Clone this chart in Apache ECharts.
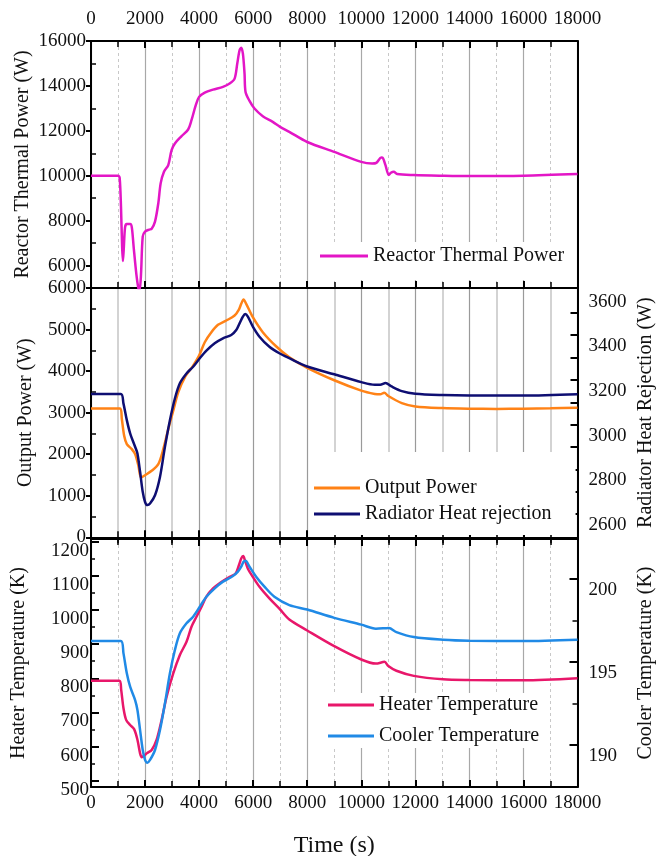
<!DOCTYPE html>
<html><head><meta charset="utf-8">
<script src="https://cdn.jsdelivr.net/npm/echarts@6/dist/echarts.min.js"></script>
<style>html,body{margin:0;padding:0;background:#fff}#c{width:656px;height:856px}</style>
</head><body><div id="c"></div>
<script>
// ---- data (time in s) ----
const reactorT = [0,1000,1060,1110,1150,1180,1210,1260,1320,1450,1510,1580,1680,1760,1800,1850,1914,2000,2150,2245,2368,2490,2577,2700,2859,2982,3104,3350,3595,3718,3877,4000,4209,4515,4883,5129,5313,5411,5497,5558,5620,5681,5718,5865,6049,6356,6724,6994,7337,8000,9000,10000,10401,10556,10741,10800,10895,11019,11096,11204,11327,11944,13025,14000,16000,18000];
const reactorW = [10000,10000,9900,8600,6900,6200,6700,7700,7850,7850,7700,6800,5600,4950,4900,5600,7289,7511,7600,7640,7956,8770,9660,10178,10474,11141,11437,11763,12059,12474,13141,13511,13704,13837,13956,14104,14326,14993,15585,15704,15437,14548,13733,13333,12993,12652,12400,12178,11956,11502,11060,10619,10545,10574,10810,10790,10471,10029,10132,10177,10074,10029,10000,9985,10000,10074];

const outputT = [0,1080,1141,1227,1325,1509,1632,1755,1853,2000,2245,2490,2675,2859,3043,3227,3472,3779,4000,4209,4454,4699,5006,5313,5472,5558,5644,5742,5988,6356,6847,7337,8000,9000,10000,10500,10700,10850,11000,11500,12000,13000,14000,15000,16000,17000,18000];
const outputW = [3100,3100,2846,2444,2243,2122,2002,1720,1439,1495,1600,1760,2122,2605,3047,3489,3850,4132,4373,4695,4936,5113,5217,5338,5482,5619,5723,5619,5297,4936,4598,4333,4080,3780,3530,3450,3440,3480,3400,3230,3150,3110,3095,3090,3095,3105,3120];

const radT = [0,1104,1200,1325,1448,1632,1718,1816,1914,2000,2086,2184,2368,2552,2736,2920,3104,3288,3534,3779,4025,4270,4577,4883,5190,5374,5497,5620,5706,5804,5988,6233,6601,6969,7337,8000,9000,10000,10500,10700,10900,11100,11500,12000,13000,14000,16000,18000];
const radW = [3187,3187,3145,3070,3011,2951,2921,2839,2749,2704,2690,2697,2734,2816,2951,3070,3167,3235,3279,3309,3347,3381,3414,3436,3451,3473,3503,3533,3545,3533,3488,3443,3398,3369,3347,3310,3275,3240,3228,3228,3236,3222,3200,3188,3182,3180,3180,3186];

const heaterT = [0,1055,1117,1202,1300,1448,1595,1718,1816,1877,1963,2061,2245,2429,2613,2798,3043,3288,3534,3718,3902,4086,4270,4515,4822,5129,5350,5472,5558,5632,5693,5804,5988,6233,6601,6969,7337,8000,9000,10000,10540,10860,11000,11300,11944,13025,14000,16000,18000];
const heaterK = [793,793,766,712,678,663,651,620,580,569,573,580,590,620,678,746,814,868,907,951,980,1009,1039,1063,1082,1097,1107,1131,1151,1158,1146,1121,1097,1068,1034,1004,972,940,894,855,843,848,836,822,807,797,795,794,800];

const coolerT = [0,1104,1202,1325,1448,1632,1718,1816,1914,2000,2086,2184,2368,2552,2736,2920,3104,3288,3534,3779,4025,4270,4577,4883,5252,5436,5558,5644,5718,5865,6110,6417,6785,7337,8000,9000,10000,10540,10850,11019,11300,11944,13025,14000,16000,18000];
const coolerK = [196.27,196.27,195.52,194.32,193.51,192.71,192.11,190.90,189.70,189.10,188.93,189.10,189.70,190.90,192.51,194.32,195.72,196.73,197.33,197.73,198.33,198.93,199.44,199.84,200.18,200.44,200.74,201.04,201.10,200.74,200.14,199.54,198.93,198.43,198.16,197.66,197.25,197.01,197.03,197.05,196.80,196.50,196.34,196.28,196.26,196.34];

const topPowerLabels = [6000,8000,10000,12000,14000,16000];
const radLabels = [2600,2800,3000,3200,3400,3600];
const heaterLabels = [500,600,700,800,900,1000,1100,1200];
const coolerLabels = [190,195,200];

// ---- helpers ----
const F = 'Liberation Serif';
const zip = (a, b) => a.map((v, i) => [v, b[i]]);
const range = (a, b, s) => { const r = []; for (let v = a; v <= b + 1e-9; v += s) r.push(+v.toFixed(4)); return r; };
const AX = { lineStyle: { color: '#000', width: 2 } };
const plain = (v) => String(Math.round(v * 100) / 100);
const lab = (o) => Object.assign({ fontFamily: F, fontSize: 19, color: '#111', formatter: plain }, o);
// labels drawn a few px below their tick (as in the source figure)
const shifted = (pad, o) => Object.assign(lab(o), {
  formatter: (v) => '{s|' + plain(v) + '}',
  rich: { s: { fontFamily: F, fontSize: 19, color: '#111', padding: [pad, 0, 0, 0] } }
});
const nameStyle = { fontFamily: F, fontSize: 20, color: '#111' };
const yName = (name, gap) => ({ name: name, nameLocation: 'middle', nameRotate: 90, nameGap: gap, nameMoveOverlap: false, nameTextStyle: nameStyle });

function xAx(grid, pos, opts) {
  const mid = opts.mid;
  return {
    type: 'value', gridIndex: grid, position: pos, min: 0, max: 18000, interval: 2000,
    axisLine: AX,
    axisTick: { show: true, inside: true, length: 7, lineStyle: { color: '#000', width: 2 } },
    minorTick: { show: true, splitNumber: 2, length: 6, lineStyle: { color: '#000', width: 1.5 } },
    axisLabel: opts.label ? lab({ margin: opts.margin }) : { show: false },
    splitLine: { show: !!opts.split, lineStyle: { color: mid ? '#9a9a9a' : '#a8a8a8', width: 1.2 } },
    minorSplitLine: { show: !!opts.split, lineStyle: { color: mid ? '#c4c4c4' : '#c8c8c8', width: mid ? 1.5 : 1, type: mid ? 'solid' : [3, 3] } },
    name: opts.name || '', nameLocation: 'middle', nameGap: opts.nameGap || 0, nameMoveOverlap: false,
    nameTextStyle: { fontFamily: F, fontSize: 24, color: '#111' },
    z: 3
  };
}
const G = { left: 91, width: 486.5, containLabel: false, outerBoundsMode: 'none' };

const option = {
  backgroundColor: '#fff',
  animation: false,
  grid: [
    Object.assign({ top: 41, height: 247 }, G),
    Object.assign({ top: 288, height: 249.3 }, G),
    Object.assign({ top: 539, height: 248 }, G)
  ],
  xAxis: [
    xAx(0, 'bottom', { split: true }),
    xAx(0, 'top', { label: true, margin: 12 }),
    xAx(1, 'bottom', { split: true, mid: true }),
    xAx(1, 'top', {}),
    xAx(2, 'bottom', { split: true, label: true, margin: 7, name: 'Time (s)', nameGap: 47 }),
    xAx(2, 'top', {})
  ],
  yAxis: [
    Object.assign({ type: 'value', gridIndex: 0, position: 'left', min: 5000, max: 16000,
      axisLine: AX, splitLine: { show: false },
      axisTick: { show: true, inside: false, length: 5, customValues: topPowerLabels, lineStyle: { color: '#000', width: 2 } },
      axisLabel: lab({ margin: 5, customValues: topPowerLabels }), z: 3 }, yName('Reactor Thermal Power (W)', 58)),
    { type: 'value', gridIndex: 0, position: 'left', min: 5000, max: 16000,
      axisLine: { show: false }, splitLine: { show: false }, axisLabel: { show: false },
      axisTick: { show: true, inside: true, length: 5, customValues: [7000,9000,11000,13000,15000], lineStyle: { color: '#000', width: 1.5 } } },
    { type: 'value', gridIndex: 0, position: 'right', min: 5000, max: 16000,
      axisLine: AX, splitLine: { show: false }, axisLabel: { show: false }, axisTick: { show: false }, z: 3 },
    Object.assign({ type: 'value', gridIndex: 1, position: 'left', min: 0, max: 6000, interval: 1000,
      axisLine: AX, splitLine: { show: false },
      axisTick: { show: true, inside: false, length: 5, lineStyle: { color: '#000', width: 2 } },
      axisLabel: lab({ margin: 5 }), z: 3 }, yName('Output Power (W)', 55)),
    { type: 'value', gridIndex: 1, position: 'left', min: 0, max: 6000,
      axisLine: { show: false }, splitLine: { show: false }, axisLabel: { show: false },
      axisTick: { show: true, inside: true, length: 5, customValues: [500,1500,2500,3500,4500,5500], lineStyle: { color: '#000', width: 1.5 } } },
    Object.assign({ type: 'value', gridIndex: 1, position: 'right', min: 2546, max: 3661,
      axisLine: AX, splitLine: { show: false },
      axisTick: { show: true, inside: true, length: 7, customValues: range(2650, 3550, 100), lineStyle: { color: '#000', width: 2 } },
      axisLabel: lab({ margin: 11, customValues: radLabels }), z: 3 }, yName('Radiator Heat Rejection (W)', 58)),
    Object.assign({ type: 'value', gridIndex: 2, position: 'left', min: 481.5, max: 1207.9,
      axisLine: AX, splitLine: { show: false },
      axisTick: { show: true, inside: true, length: 8, customValues: heaterLabels, lineStyle: { color: '#000', width: 2 } },
      axisLabel: shifted(18, { margin: 2, customValues: heaterLabels }), z: 3 }, yName('Heater Temperature (K)', 62)),
    { type: 'value', gridIndex: 2, position: 'left', min: 481.5, max: 1207.9,
      axisLine: { show: false }, splitLine: { show: false }, axisLabel: { show: false },
      axisTick: { show: true, inside: true, length: 4, customValues: range(550, 1150, 100), lineStyle: { color: '#000', width: 1.5 } } },
    Object.assign({ type: 'value', gridIndex: 2, position: 'right', min: 187.47, max: 202.41,
      axisLine: AX, splitLine: { show: false },
      axisTick: { show: true, inside: true, length: 8, customValues: coolerLabels, lineStyle: { color: '#000', width: 2 } },
      axisLabel: shifted(22, { margin: 11, customValues: coolerLabels }), z: 3 }, yName('Cooler Temperature (K)', 58)),
    { type: 'value', gridIndex: 2, position: 'right', min: 187.47, max: 202.41,
      axisLine: { show: false }, splitLine: { show: false }, axisLabel: { show: false },
      axisTick: { show: true, inside: true, length: 5, customValues: [192.5, 197.5], lineStyle: { color: '#000', width: 1.5 } } }
  ],
  legend: [
    { data: ['Reactor Thermal Power'], orient: 'vertical', left: 312, top: 242, padding: [4, 12, 14, 8],
      backgroundColor: '#fff', itemWidth: 48, itemHeight: 3, icon: 'rect', selectedMode: false,
      textStyle: { fontFamily: F, fontSize: 20, color: '#111', lineHeight: 20 } },
    { data: ['Output Power', 'Radiator Heat rejection'], orient: 'vertical', left: 310, top: 452, padding: [26, 24, 11, 4],
      itemGap: 6, backgroundColor: '#fff', itemWidth: 46, itemHeight: 3, icon: 'rect', selectedMode: false,
      textStyle: { fontFamily: F, fontSize: 20, color: '#111', lineHeight: 20 } },
    { data: ['Heater Temperature', 'Cooler Temperature'], orient: 'vertical', left: 326, top: 693, padding: [2, 6, 2, 2],
      itemGap: 11, backgroundColor: '#fff', itemWidth: 46, itemHeight: 3, icon: 'rect', selectedMode: false,
      textStyle: { fontFamily: F, fontSize: 20, color: '#111', lineHeight: 20 } }
  ],
  series: [
    { name: 'Reactor Thermal Power', type: 'line', xAxisIndex: 0, yAxisIndex: 0, data: zip(reactorT, reactorW),
      showSymbol: false, smooth: 0.3, lineStyle: { width: 2.5, color: '#e316c6' }, itemStyle: { color: '#e316c6' }, z: 5 },
    { name: 'Output Power', type: 'line', xAxisIndex: 2, yAxisIndex: 3, data: zip(outputT, outputW),
      showSymbol: false, smooth: 0.3, lineStyle: { width: 2.5, color: '#ff8216' }, itemStyle: { color: '#ff8216' }, z: 5 },
    { name: 'Radiator Heat rejection', type: 'line', xAxisIndex: 2, yAxisIndex: 5, data: zip(radT, radW),
      showSymbol: false, smooth: 0.3, lineStyle: { width: 2.5, color: '#0e0e72' }, itemStyle: { color: '#0e0e72' }, z: 5 },
    { name: 'Heater Temperature', type: 'line', xAxisIndex: 4, yAxisIndex: 6, data: zip(heaterT, heaterK),
      showSymbol: false, smooth: 0.3, lineStyle: { width: 2.5, color: '#e8176a' }, itemStyle: { color: '#e8176a' }, z: 5 },
    { name: 'Cooler Temperature', type: 'line', xAxisIndex: 4, yAxisIndex: 8, data: zip(coolerT, coolerK),
      showSymbol: false, smooth: 0.3, lineStyle: { width: 2.5, color: '#208ae6' }, itemStyle: { color: '#208ae6' }, z: 5 }
  ]
};
const chart = echarts.init(document.getElementById('c'), null, { renderer: 'canvas' });
chart.setOption(option);
</script></body></html>
